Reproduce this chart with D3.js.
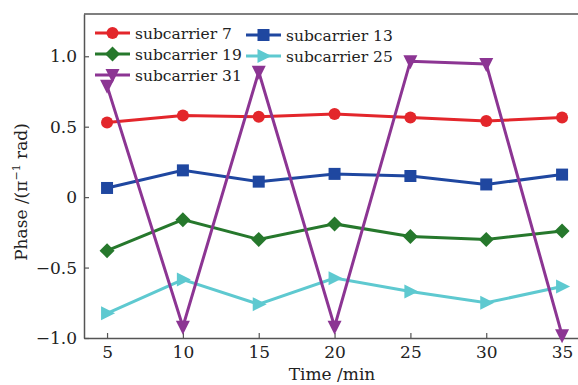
<!DOCTYPE html>
<html>
<head>
<meta charset="utf-8">
<script src="https://cdn.jsdelivr.net/npm/d3@7"></script>
<style>
  body { margin: 0; background: #fff; }
</style>
</head>
<body>
<script>
// data
var times = [5, 10, 15, 20, 25, 30, 35];
var xTicks = [5, 10, 15, 20, 25, 30, 35];
var yTicks = [-1.0, -0.5, 0, 0.5, 1.0];
var sub7  = [0.53, 0.58, 0.57, 0.59, 0.565, 0.54, 0.565];
var sub13 = [0.065, 0.19, 0.11, 0.165, 0.15, 0.09, 0.16];
var sub19 = [-0.38, -0.16, -0.30, -0.19, -0.28, -0.30, -0.24];
var sub25 = [-0.825, -0.585, -0.76, -0.575, -0.67, -0.75, -0.635];
var sub31 = [0.79, -0.92, 0.89, -0.92, 0.965, 0.945, -0.98];

var series = [
  { name: 'subcarrier 7',  values: sub7,  color: '#e3262b', marker: 'circle' },
  { name: 'subcarrier 13', values: sub13, color: '#1f47a0', marker: 'square' },
  { name: 'subcarrier 19', values: sub19, color: '#26782c', marker: 'diamond' },
  { name: 'subcarrier 25', values: sub25, color: '#5ec9d0', marker: 'right' },
  { name: 'subcarrier 31', values: sub31, color: '#8c3593', marker: 'down' }
];

var FONT = '"DejaVu Serif", serif';
var width = 578, height = 385;
var margin = { top: 14, right: 0, bottom: 47, left: 84 };

var svg = d3.select('body').append('svg')
  .attr('width', width)
  .attr('height', height)
  .attr('font-family', FONT);

var x = d3.scaleLinear().domain([3.48, 36.05]).range([margin.left, width - margin.right]);
var y = d3.scaleLinear().domain([-1.0, 1.3]).range([height - margin.bottom, margin.top]);

// axes frame
var axisColor = '#555';
svg.append('line')
  .attr('x1', margin.left).attr('x2', width)
  .attr('y1', margin.top).attr('y2', margin.top)
  .attr('stroke', axisColor).attr('stroke-width', 1.5);

var xAxis = svg.append('g')
  .attr('transform', 'translate(0,' + (height - margin.bottom) + ')')
  .call(d3.axisBottom(x).tickValues(xTicks).tickSize(-5).tickPadding(8).tickFormat(d3.format('d')).tickSizeOuter(0));

var yAxis = svg.append('g')
  .attr('transform', 'translate(' + margin.left + ',0)')
  .call(d3.axisLeft(y).tickValues(yTicks).tickSize(-5).tickPadding(7)
    .tickFormat(function (d) { return d === 0 ? '0' : d3.format('.1f')(d).replace('-', '\u2212'); })
    .tickSizeOuter(0));

[xAxis, yAxis].forEach(function (g) {
  g.attr('font-family', FONT);
  g.select('.domain').attr('stroke', axisColor).attr('stroke-width', 1.5);
  g.selectAll('.tick line').attr('stroke', axisColor).attr('stroke-width', 1.2);
  g.selectAll('.tick text').attr('font-size', 17).attr('fill', '#222');
});

// axis titles
svg.append('text')
  .attr('x', 332).attr('y', 380)
  .attr('text-anchor', 'middle')
  .attr('font-size', 17)
  .attr('fill', '#222')
  .text('Time /min');

var yt = svg.append('text')
  .attr('transform', 'translate(27,192) rotate(-90)')
  .attr('text-anchor', 'middle')
  .attr('font-size', 17)
  .attr('fill', '#222');
yt.append('tspan').text('Phase /(\u03c0');
yt.append('tspan').attr('font-size', 11).attr('dy', -7).text('\u22121');
yt.append('tspan').attr('dy', 7).text(' rad)');

// marker drawing
function marker(g, type, color) {
  if (type === 'circle') {
    g.append('circle').attr('r', 6).attr('fill', color);
  } else if (type === 'square') {
    g.append('rect').attr('x', -6).attr('y', -6).attr('width', 12).attr('height', 12).attr('fill', color);
  } else if (type === 'diamond') {
    g.append('path').attr('d', 'M0,-7.5L7.5,0L0,7.5L-7.5,0Z').attr('fill', color);
  } else if (type === 'right') {
    g.append('path').attr('d', 'M8,0L-6,-7L-6,7Z').attr('fill', color);
  } else if (type === 'down') {
    g.append('path').attr('d', 'M0,8L-7,-6L7,-6Z').attr('fill', color);
  }
}

var line = d3.line()
  .x(function (d, i) { return x(times[i]); })
  .y(function (d) { return y(d); });

series.forEach(function (s) {
  svg.append('path')
    .datum(s.values)
    .attr('d', line)
    .attr('fill', 'none')
    .attr('stroke', s.color)
    .attr('stroke-width', 3)
    .attr('stroke-linejoin', 'miter');
  s.values.forEach(function (v, i) {
    var g = svg.append('g').attr('transform', 'translate(' + x(times[i]) + ',' + y(v) + ')');
    marker(g, s.marker, s.color);
  });
});

// legend
var legendPos = [
  { s: 0, lx: 95, ty: 33 },
  { s: 1, lx: 246, ty: 35 },
  { s: 2, lx: 95, ty: 54 },
  { s: 3, lx: 246, ty: 56 },
  { s: 4, lx: 95, ty: 75 }
];
legendPos.forEach(function (p) {
  var s = series[p.s];
  var g = svg.append('g');
  g.append('line')
    .attr('x1', p.lx).attr('x2', p.lx + 35)
    .attr('y1', p.ty).attr('y2', p.ty)
    .attr('stroke', s.color).attr('stroke-width', 3);
  var m = g.append('g').attr('transform', 'translate(' + (p.lx + 17.5) + ',' + p.ty + ')');
  marker(m, s.marker, s.color);
  g.append('text')
    .attr('x', p.lx + 40).attr('y', p.ty + 6)
    .attr('font-size', 15.5)
    .attr('fill', '#222')
    .text(s.name);
});
</script>
</body>
</html>
